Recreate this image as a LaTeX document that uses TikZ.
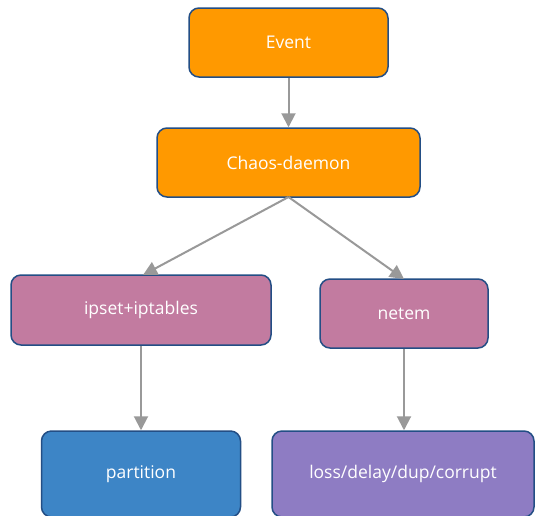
\documentclass[tikz,border=0pt]{standalone}
\usepackage{fontspec}
\setmainfont{Open Sans}
\usetikzlibrary{arrows.meta}
\definecolor{orangefill}{HTML}{FF9900}
\definecolor{pinkfill}{HTML}{C27BA0}
\definecolor{bluefill}{HTML}{3D85C6}
\definecolor{purplefill}{HTML}{8E7CC3}
\definecolor{boxborder}{HTML}{234E85}
\definecolor{arrowgray}{HTML}{999999}
\tikzset{
  box/.style={draw=boxborder, line width=1.5pt, rounded corners=10pt, text=white,
    font=\fontsize{17.5}{20}\selectfont, inner sep=0pt, anchor=center},
  conn/.style={draw=arrowgray, line width=2pt, -{Triangle[length=14pt,width=14pt]}}
}
\begin{document}
\begin{tikzpicture}[x=1pt,y=-1pt]
\useasboundingbox (0,0) rectangle (535,515);
\fill[white] (0,0) rectangle (535,515);
\node[box, fill=orangefill, minimum width=199pt, minimum height=69pt] (event) at (288.5,42.5) {Event};
\node[box, fill=orangefill, minimum width=263pt, minimum height=69pt] (chaos) at (288.5,162.5) {Chaos-daemon};
\node[box, fill=pinkfill, minimum width=260pt, minimum height=70pt] (ipset) at (141,310) {ipset+iptables};
\node[box, fill=pinkfill, minimum width=168pt, minimum height=69pt] (netem) at (404,313.5) {netem};
\node[box, fill=bluefill, minimum width=199pt, minimum height=86pt] (part) at (141,474) {partition};
\node[box, fill=purplefill, minimum width=262pt, minimum height=86pt] (loss) at (403,474) {loss/delay/dup/corrupt};
\coordinate (chaosB) at (288.5,197);
\coordinate (ipsetT) at (143,275);
\coordinate (netemT) at (404,279);
\draw[conn] (event.south) -- (chaos.north);
\draw[conn] (chaosB) -- (ipsetT);
\draw[conn] (chaosB) -- (netemT);
\draw[conn] (ipset.south) -- (ipset.south |- part.north);
\draw[conn] (netem.south) -- (netem.south |- loss.north);
\end{tikzpicture}
\end{document}
